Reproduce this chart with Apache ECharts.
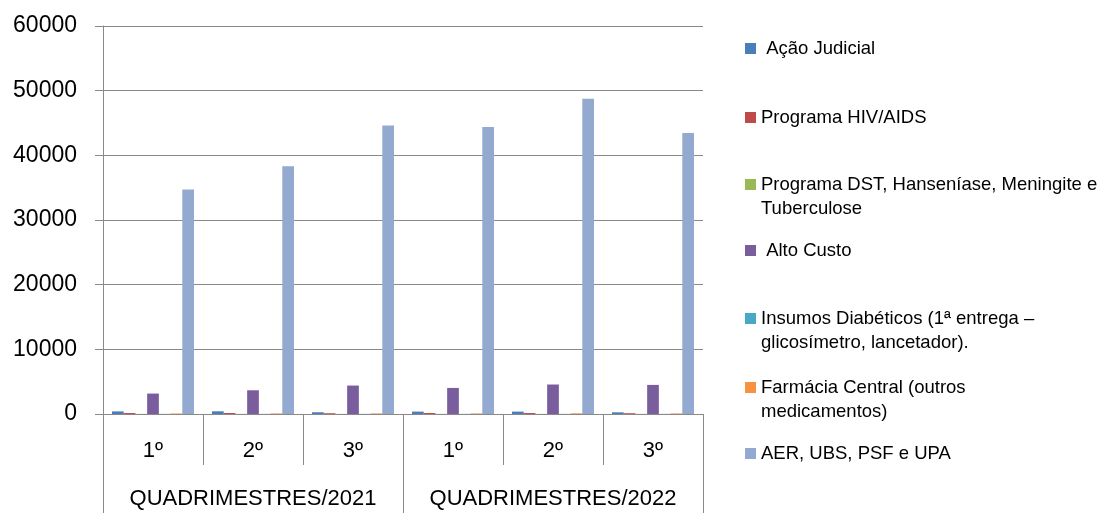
<!DOCTYPE html>
<html>
<head>
<meta charset="utf-8">
<script src="https://cdn.jsdelivr.net/npm/echarts@6/dist/echarts.min.js"></script>
<style>
  html, body { margin: 0; padding: 0; background: #ffffff; }
  #chart { width: 1109px; height: 513px; }
</style>
</head>
<body>
<div id="chart"></div>
<script>
// Quadrimester categories, grouped by year
const quadrimestres = ['1º', '2º', '3º', '1º', '2º', '3º'];
const anos = ['QUADRIMESTRES/2021', 'QUADRIMESTRES/2022'];

// Legend labels (each line of a wrapped label as its own entry)
const acaoJudicialLabel = [' Ação Judicial'];
const hivAidsLabel = ['Programa HIV/AIDS'];
const dstLabel = ['Programa DST, Hanseníase, Meningite e', 'Tuberculose'];
const altoCustoLabel = [' Alto Custo'];
const insumosLabel = ['Insumos Diabéticos (1ª entrega –', 'glicosímetro, lancetador).'];
const farmaciaLabel = ['Farmácia Central (outros', 'medicamentos)'];
const aerLabel = ['AER, UBS, PSF e UPA'];

// Values per quadrimester
const acaoJudicial = [400, 420, 270, 370, 370, 260];
const hivAids = [150, 150, 120, 150, 150, 120];
const dstHansen = [20, 20, 20, 20, 20, 20];
const altoCusto = [3160, 3670, 4400, 4030, 4560, 4500];
const insumosDiab = [20, 20, 20, 20, 20, 20];
const farmaciaCentral = [80, 90, 90, 90, 110, 90];
const aerUbsPsfUpa = [34700, 38300, 44600, 44400, 48750, 43470];

// Value axis range
const yMin = 0;
const yMax = 60000;
const yStep = 10000;

const FONT = '"Liberation Sans", Arial, sans-serif';
const AXIS_GRAY = '#898989';

const seriesDefs = [
  { lines: acaoJudicialLabel, data: acaoJudicial, color: '#4A7EBB', iconTop: 43 },
  { lines: hivAidsLabel, data: hivAids, color: '#BE4B48', iconTop: 112 },
  { lines: dstLabel, data: dstHansen, color: '#98B954', iconTop: 179 },
  { lines: altoCustoLabel, data: altoCusto, color: '#7A5D9C', iconTop: 245 },
  { lines: insumosLabel, data: insumosDiab, color: '#46AAC5', iconTop: 313 },
  { lines: farmaciaLabel, data: farmaciaCentral, color: '#F69240', iconTop: 382 },
  { lines: aerLabel, data: aerUbsPsfUpa, color: '#93A9CF', iconTop: 448 }
];

const LINE_H = 24;

const series = seriesDefs.map(d => ({
  name: d.lines.join('\n'),
  type: 'bar',
  xAxisIndex: 0,
  yAxisIndex: 0,
  data: d.data,
  barGap: '0%',
  barCategoryGap: '18%',
  itemStyle: { color: d.color },
  emphasis: { disabled: true }
}));

// One legend block per entry so each can sit at its own height.
// The legend text is centred on its icon, so a wrapped entry gets an
// empty leading line to keep the icon level with its first line.
const legends = seriesDefs.map(d => {
  const multi = d.lines.length > 1;
  const shownLines = d.lines.length + (multi ? 1 : 0);
  return {
    data: [d.lines.join('\n')],
    left: 745,
    top: d.iconTop - (LINE_H * shownLines) / 2 + 5.5,
    orient: 'vertical',
    padding: 0,
    icon: 'rect',
    itemWidth: 11,
    itemHeight: 11,
    selectedMode: false,
    formatter: name => (multi ? '\n' + name : name),
    textStyle: {
      fontFamily: FONT,
      fontSize: 18.5,
      color: '#000000',
      lineHeight: LINE_H
    }
  };
});

const chart = echarts.init(document.getElementById('chart'), null, { renderer: 'canvas' });

chart.setOption({
  animation: false,
  backgroundColor: '#ffffff',
  grid: { left: 103, right: 406, top: 26, bottom: 99, containLabel: false },
  legend: legends,
  xAxis: [
    {
      type: 'category',
      data: quadrimestres,
      position: 'bottom',
      boundaryGap: true,
      axisLine: { show: true, lineStyle: { color: AXIS_GRAY, width: 1 } },
      axisTick: { show: true, interval: 0, length: 51, lineStyle: { color: AXIS_GRAY, width: 1 } },
      axisLabel: { interval: 0, margin: 26, color: '#000000', fontFamily: FONT, fontSize: 22 },
      splitLine: { show: false }
    },
    {
      type: 'category',
      data: anos,
      position: 'bottom',
      boundaryGap: true,
      axisLine: { show: false },
      axisTick: { show: true, interval: 0, length: 99, lineStyle: { color: AXIS_GRAY, width: 1 } },
      axisLabel: { interval: 0, margin: 74, color: '#000000', fontFamily: FONT, fontSize: 22 },
      splitLine: { show: false }
    }
  ],
  yAxis: {
    type: 'value',
    min: yMin,
    max: yMax,
    interval: yStep,
    axisLine: { show: true, lineStyle: { color: AXIS_GRAY, width: 1 } },
    axisTick: { show: true, inside: false, length: 8, lineStyle: { color: AXIS_GRAY, width: 1 } },
    axisLabel: {
      margin: 26,
      color: '#000000',
      fontFamily: FONT,
      fontSize: 23,
      padding: [4, 0, 0, 0],
      formatter: v => String(v)
    },
    splitLine: { show: true, lineStyle: { color: AXIS_GRAY, width: 1 } }
  },
  series: series
});
</script>
</body>
</html>
